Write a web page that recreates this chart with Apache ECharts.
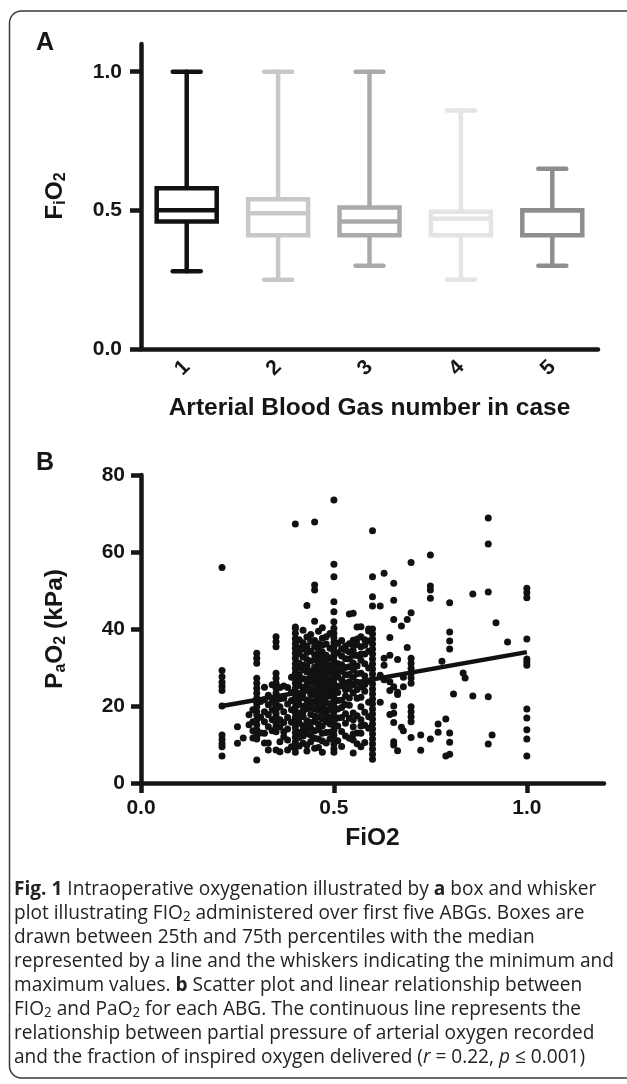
<!DOCTYPE html>
<html><head><meta charset="utf-8">
<script src="https://cdn.jsdelivr.net/npm/echarts@6/dist/echarts.min.js"></script>
<style>html,body{margin:0;padding:0;background:#fff;} #chart{width:627px;height:1084px;}</style>
</head><body><div id="chart"></div>
<script>
// ---------- Panel A: box plot data ----------
const boxCategories = ['1', '2', '3', '4', '5'];
const boxMin    = [0.28, 0.25, 0.30, 0.25, 0.30];
const boxQ1     = [0.46, 0.41, 0.41, 0.41, 0.41];
const boxMedian = [0.50, 0.49, 0.46, 0.47, 0.50];
const boxQ3     = [0.58, 0.54, 0.51, 0.495, 0.50];
const boxMax    = [1.00, 1.00, 1.00, 0.86, 0.65];
const boxColors = ['#111111', '#c8c8c8', '#aaaaaa', '#e4e4e4', '#8e8e8e'];
const boxYTicks = [0, 0.5, 1.0];

// ---------- Panel B: scatter data (FiO2 level -> PaO2 values, kPa) ----------
const scatterFiO2 = [0.21, 0.25, 0.265, 0.28, 0.29, 0.30, 0.31, 0.32, 0.33, 0.34, 0.35, 0.36, 0.37, 0.38, 0.39,
  0.40, 0.41, 0.42, 0.43, 0.44, 0.45, 0.46, 0.47, 0.48, 0.49, 0.50, 0.51, 0.52, 0.53, 0.54, 0.55,
  0.56, 0.57, 0.58, 0.59, 0.60, 0.62, 0.63, 0.645, 0.655, 0.665, 0.675, 0.68, 0.69, 0.70, 0.725,
  0.75, 0.77, 0.78, 0.79, 0.80, 0.81, 0.835, 0.84, 0.86, 0.90, 0.91, 0.92, 0.95, 1.00];
const scatterPaO2 = [
  [56.0, 29.2, 27.6, 26.2, 25.1, 24.0, 20.0, 12.5, 11.3, 10.2, 9.4, 7.0],
  [14.6, 10.3],
  [11.7],
  [17.7, 15.1],
  [19.0, 15.9, 13.6, 11.7],
  [33.7, 32.4, 31.1, 27.2, 25.9, 24.6, 23.3, 22.0, 20.7, 19.8, 18.5, 17.7, 16.4, 15.1, 13.8, 12.5, 11.4, 6.0],
  [21.2, 17.1, 13.0],
  [24.9, 21.6, 18.5, 15.9, 12.9, 10.4],
  [22.8, 20.3, 17.7, 14.6, 10.4, 8.6],
  [25.5, 21.0, 19.0, 16.4, 13.6],
  [38.0, 36.7, 35.4, 28.5, 27.2, 25.9, 24.6, 23.3, 22.4, 21.6, 20.7, 19.8, 19.0, 18.1, 17.3, 16.4, 15.6, 14.7, 13.3, 8.6],
  [24.8, 21.9, 19.8, 16.4, 14.6, 10.7, 8.1],
  [25.2, 22.0, 18.5, 15.7, 13.3, 12.0],
  [24.8, 20.5, 17.0, 14.0, 11.2, 8.6],
  [27.5, 23.5, 21.4, 19.0, 15.8, 9.4],
  [67.3, 40.5, 40.2, 38.9, 37.5, 36.2, 35.0, 33.7, 32.4, 31.0, 29.8, 28.5, 27.2, 26.0, 24.7, 23.4, 22.1, 20.9, 19.6, 18.3, 17.0, 15.7, 14.4, 13.1, 11.9, 10.6, 9.3, 8.0],
  [37.2, 35.1, 33.6, 31.2, 29.9, 28.1, 26.5, 25.3, 23.1, 21.8, 20.4, 18.2, 16.9, 15.5, 13.1, 11.8, 9.6],
  [39.7, 36.4, 34.9, 32.7, 30.6, 29.4, 27.1, 24.8, 23.6, 22.2, 19.9, 18.6, 17.3, 14.9, 13.7, 12.2, 10.3],
  [46.1, 37.9, 35.5, 33.9, 32.1, 30.3, 28.8, 26.9, 25.6, 24.1, 21.5, 20.6, 19.3, 16.2, 14.4, 12.8, 9.9, 8.3],
  [38.6, 36.8, 34.2, 31.7, 29.0, 27.7, 26.2, 24.4, 22.9, 21.2, 19.6, 17.8, 15.7, 14.2, 12.5, 10.7],
  [67.8, 51.4, 50.1, 42.0, 37.0, 35.4, 33.3, 32.0, 30.1, 28.6, 27.3, 25.9, 24.2, 22.7, 21.0, 19.2, 17.4, 16.0, 13.6, 11.6, 9.0],
  [39.4, 36.2, 34.6, 33.0, 31.3, 29.7, 27.9, 26.6, 25.0, 23.4, 22.0, 20.3, 18.9, 17.1, 15.2, 13.9, 11.4, 9.2],
  [40.3, 37.6, 35.8, 34.0, 32.4, 30.8, 29.2, 27.4, 26.0, 24.6, 23.2, 21.4, 19.8, 18.4, 16.6, 14.8, 12.9, 10.9, 8.0],
  [38.0, 36.1, 33.2, 31.5, 30.0, 28.3, 26.8, 25.2, 23.9, 22.4, 20.8, 19.0, 17.5, 15.9, 13.1, 10.4],
  [38.8, 35.0, 32.5, 30.6, 28.9, 27.1, 25.5, 24.0, 22.6, 20.6, 18.9, 17.0, 15.3, 13.2, 11.5],
  [73.5, 56.8, 53.6, 47.1, 44.5, 41.9, 40.2, 38.9, 37.7, 36.5, 35.3, 34.1, 32.9, 31.7, 30.5, 29.3, 28.1, 26.9, 25.7, 24.5, 23.3, 22.1, 20.9, 19.7, 18.5, 17.3, 16.1, 14.9, 13.7, 12.5, 11.3, 10.1, 8.9, 8.0],
  [36.3, 33.8, 31.0, 29.2, 27.6, 25.1, 23.5, 21.4, 19.2, 16.9, 14.8, 11.0],
  [37.0, 34.9, 33.0, 30.7, 29.0, 26.8, 25.2, 21.5, 19.6, 17.0, 13.4, 9.5],
  [35.6, 34.5, 32.3, 30.0, 28.1, 26.0, 24.2, 22.6, 20.4, 18.0, 15.5, 12.2],
  [43.9, 36.2, 34.0, 32.2, 30.2, 28.2, 26.3, 24.5, 22.1, 20.2, 16.8, 11.6],
  [44.1, 37.1, 35.8, 34.5, 33.2, 31.2, 29.4, 27.5, 25.6, 23.4, 18.2, 16.4, 14.6, 12.7, 11.2, 7.8],
  [40.5, 37.4, 36.0, 33.1, 30.4, 28.4, 26.2, 24.3, 22.0, 17.5, 13.0, 10.2],
  [40.6, 38.0, 35.4, 33.5, 31.9, 28.5, 25.0, 22.3, 19.8, 16.4, 14.8, 12.9, 9.4],
  [37.2, 35.8, 33.5, 31.0, 27.8, 25.6, 23.8, 18.4, 15.0, 10.5],
  [40.0, 39.5, 36.9, 34.2, 29.9, 26.4, 21.0, 17.2, 14.2],
  [65.5, 53.6, 48.4, 46.0, 40.0, 38.7, 37.4, 36.1, 34.8, 33.5, 32.2, 30.9, 29.6, 28.3, 27.0, 25.7, 24.4, 23.1, 21.8, 20.5, 19.2, 17.9, 16.6, 15.3, 14.0, 12.7, 11.4, 10.1, 8.8, 7.5, 6.2],
  [46.0, 28.0, 21.0],
  [54.5, 32.4, 30.6, 26.8],
  [37.8, 33.2, 26.3, 24.0, 17.8],
  [51.9, 47.5, 42.5, 25.0, 20.0, 18.1, 15.7, 10.7, 9.9],
  [32.1, 23.6, 23.0, 8.4],
  [40.8, 14.5],
  [27.5, 25.0, 13.6],
  [42.5, 35.2],
  [57.3, 44.2, 32.4, 31.1, 29.8, 28.5, 27.3, 25.9, 19.8, 18.5, 17.2, 15.9, 11.8],
  [12.5, 8.5],
  [59.2, 51.2, 50.1, 48.0, 11.4],
  [15.3, 13.2],
  [31.6],
  [16.6, 7.0],
  [46.8, 39.2, 36.9, 34.8, 13.0, 10.6, 7.5],
  [23.1],
  [28.6],
  [27.3],
  [49.1, 22.6],
  [68.8, 62.1, 49.6, 22.4, 10.1],
  [12.5],
  [41.6],
  [36.6],
  [50.6, 49.4, 48.1, 37.4, 32.2, 31.4, 30.6, 19.2, 16.9, 13.8, 11.4, 7.0]
];
const fitLine = [[0.21, 20.0], [1.0, 34.0]];
const scatterXTicks = [0, 0.5, 1.0];
const scatterYTicks = [0, 20, 40, 60, 80];

// ---------- caption ----------
const captionLines = [
  '{b|Fig. 1} Intraoperative oxygenation illustrated by {b|a} box and whisker',
  'plot illustrating FIO{s|2} administered over first five ABGs. Boxes are',
  'drawn between 25th and 75th percentiles with the median',
  'represented by a line and the whiskers indicating the minimum and',
  'maximum values. {b|b} Scatter plot and linear relationship between',
  'FIO{s|2} and PaO{s|2} for each ABG. The continuous line represents the',
  'relationship between partial pressure of arterial oxygen recorded',
  'and the fraction of inspired oxygen delivered ({i|r} = 0.22, {i|p} \u2264 0.001)'
];

// ---------- build ----------
const boxData = boxCategories.map((c, i) => [i, boxMin[i], boxQ1[i], boxMedian[i], boxQ3[i], boxMax[i]]);
const scatterData = [];
scatterFiO2.forEach((f, i) => scatterPaO2[i].forEach(p => scatterData.push([f, p])));

const INK = '#161616';
const FONT = '"Liberation Sans", Arial, Helvetica, sans-serif';
const axisLabelStyle = { fontFamily: FONT, fontWeight: 'bold', fontSize: 21, color: INK };
const axisLineStyle = { color: INK, width: 4.5 };

function renderBox(params, api) {
  const i = api.value(0);
  const x = api.coord([i, 0])[0];
  const yMin = api.coord([i, api.value(1)])[1];
  const yQ1 = api.coord([i, api.value(2)])[1];
  const yMed = api.coord([i, api.value(3)])[1];
  const yQ3 = api.coord([i, api.value(4)])[1];
  const yMax = api.coord([i, api.value(5)])[1];
  const color = boxColors[i];
  const hw = 30, cw = 14, lw = 4.5;
  const st = { stroke: color, lineWidth: lw, lineCap: 'round' };
  return {
    type: 'group',
    children: [
      { type: 'line', shape: { x1: x, y1: yMax, x2: x, y2: yQ3 }, style: st },
      { type: 'line', shape: { x1: x, y1: yQ1, x2: x, y2: yMin }, style: st },
      { type: 'line', shape: { x1: x - cw, y1: yMax, x2: x + cw, y2: yMax }, style: st },
      { type: 'line', shape: { x1: x - cw, y1: yMin, x2: x + cw, y2: yMin }, style: st },
      { type: 'rect', shape: { x: x - hw, y: yQ3, width: 2 * hw, height: yQ1 - yQ3 },
        style: { fill: '#ffffff', stroke: color, lineWidth: lw } },
      { type: 'line', shape: { x1: x - hw, y1: yMed, x2: x + hw, y2: yMed }, style: { stroke: color, lineWidth: lw } }
    ]
  };
}

// caption: font fitted (horizontally) to the reference line width
const CAP_FONT = '"Open Sans", "Noto Sans", sans-serif';
const capSize = 20;
const mctx = document.createElement('canvas').getContext('2d');
mctx.font = capSize + 'px ' + CAP_FONT;
const capScaleX = 600 / mctx.measureText(captionLines[3]).width;
const capLH = 24;
const capTop = 889;
const capColor = '#232323';
const capRich = {
  b: { fontWeight: 'bold', fontSize: capSize, fontFamily: CAP_FONT, color: capColor, lineHeight: capLH },
  i: { fontStyle: 'italic', fontSize: capSize, fontFamily: CAP_FONT, color: capColor, lineHeight: capLH },
  s: { fontSize: 14, fontFamily: CAP_FONT, color: capColor, padding: [9, 0, 0, 0], lineHeight: capLH }
};
const captionGraphics = captionLines.map((t, k) => ({
  type: 'text', x: 14, y: capTop + k * capLH, scaleX: capScaleX, scaleY: 1,
  style: { text: t, fontFamily: CAP_FONT, fontSize: capSize, fill: capColor, lineHeight: capLH,
    align: 'left', verticalAlign: 'middle', rich: capRich }
}));

const nameRich = {
  s: { fontFamily: FONT, fontWeight: 'bold', fontSize: 16, fill: INK, padding: [12, 0, 0, 0], lineHeight: 28 }
};

const chart = echarts.init(document.getElementById('chart'), null, { renderer: 'canvas' });
chart.setOption({
  animation: false,
  backgroundColor: '#ffffff',
  grid: [
    { left: 141, right: 29, top: 44, bottom: 735 },
    { left: 141, right: 23, top: 475, bottom: 301 }
  ],
  xAxis: [
    {
      gridIndex: 0, type: 'category', data: boxCategories, boundaryGap: true,
      axisLine: { lineStyle: axisLineStyle },
      axisTick: { alignWithLabel: true, length: 10, lineStyle: { color: INK, width: 4.5 } },
      axisLabel: Object.assign({ rotate: 45, margin: 15 }, axisLabelStyle),
      name: 'Arterial Blood Gas number in case', nameLocation: 'middle', nameGap: 47,
      nameTextStyle: { fontFamily: FONT, fontWeight: 'bold', fontSize: 24.5, color: INK },
      splitLine: { show: false }
    },
    {
      gridIndex: 1, type: 'value', min: 0, max: 1.2,
      axisLine: { lineStyle: axisLineStyle },
      axisTick: { customValues: scatterXTicks, length: 10, lineStyle: { color: INK, width: 4.5 } },
      axisLabel: Object.assign({ customValues: scatterXTicks, margin: 15, formatter: v => v.toFixed(1) }, axisLabelStyle),
      name: 'FiO2', nameLocation: 'middle', nameGap: 43,
      nameTextStyle: { fontFamily: FONT, fontWeight: 'bold', fontSize: 24.5, color: INK },
      splitLine: { show: false }
    }
  ],
  yAxis: [
    {
      gridIndex: 0, type: 'value', min: 0, max: 1.1,
      axisLine: { show: true, lineStyle: axisLineStyle },
      axisTick: { show: true, customValues: boxYTicks, length: 11, lineStyle: { color: INK, width: 4.5 } },
      axisLabel: Object.assign({ customValues: boxYTicks, margin: 19, formatter: v => v.toFixed(1) }, axisLabelStyle),
      splitLine: { show: false }
    },
    {
      gridIndex: 1, type: 'value', min: 0, max: 80, interval: 20,
      axisLine: { show: true, lineStyle: axisLineStyle },
      axisTick: { show: true, customValues: scatterYTicks, length: 10, lineStyle: { color: INK, width: 4.5 } },
      axisLabel: Object.assign({ customValues: scatterYTicks, margin: 16 }, axisLabelStyle),
      splitLine: { show: false }
    }
  ],
  series: [
    {
      type: 'custom', xAxisIndex: 0, yAxisIndex: 0, data: boxData,
      encode: { x: 0, y: [1, 2, 3, 4, 5] }, renderItem: renderBox, silent: true
    },
    {
      type: 'scatter', xAxisIndex: 1, yAxisIndex: 1, data: scatterData,
      symbol: 'circle', symbolSize: 7, itemStyle: { color: '#111111', opacity: 1 }, silent: true
    },
    {
      type: 'line', xAxisIndex: 1, yAxisIndex: 1, data: fitLine, showSymbol: false, symbol: 'none',
      lineStyle: { color: '#111111', width: 4.5, opacity: 1 }, z: 5, silent: true
    }
  ],
  graphic: [
    { type: 'rect', shape: { x: 9.5, y: 11, width: 660, height: 1067, r: 12 },
      style: { fill: 'none', stroke: '#3a3a3a', lineWidth: 1.5 }, silent: true, z: -1 },
    { type: 'text', left: 36, top: 31, style: { text: 'A', fontFamily: FONT, fontWeight: 'bold', fontSize: 25, fill: INK } },
    { type: 'text', left: 36, top: 451, style: { text: 'B', fontFamily: FONT, fontWeight: 'bold', fontSize: 25, fill: INK } },
    { type: 'text', x: 55, y: 196, rotation: Math.PI / 2,
      style: { text: 'F{s|i}O{s|2}', fontFamily: FONT, fontWeight: 'bold', fontSize: 24.5, fill: INK,
        align: 'center', verticalAlign: 'middle', lineHeight: 28, rich: nameRich } },
    { type: 'text', x: 55, y: 629, rotation: Math.PI / 2,
      style: { text: 'P{s|a}O{s|2} (kPa)', fontFamily: FONT, fontWeight: 'bold', fontSize: 24.5, fill: INK,
        align: 'center', verticalAlign: 'middle', lineHeight: 28, rich: nameRich } }
  ].concat(captionGraphics)
});
</script>
</body></html>
